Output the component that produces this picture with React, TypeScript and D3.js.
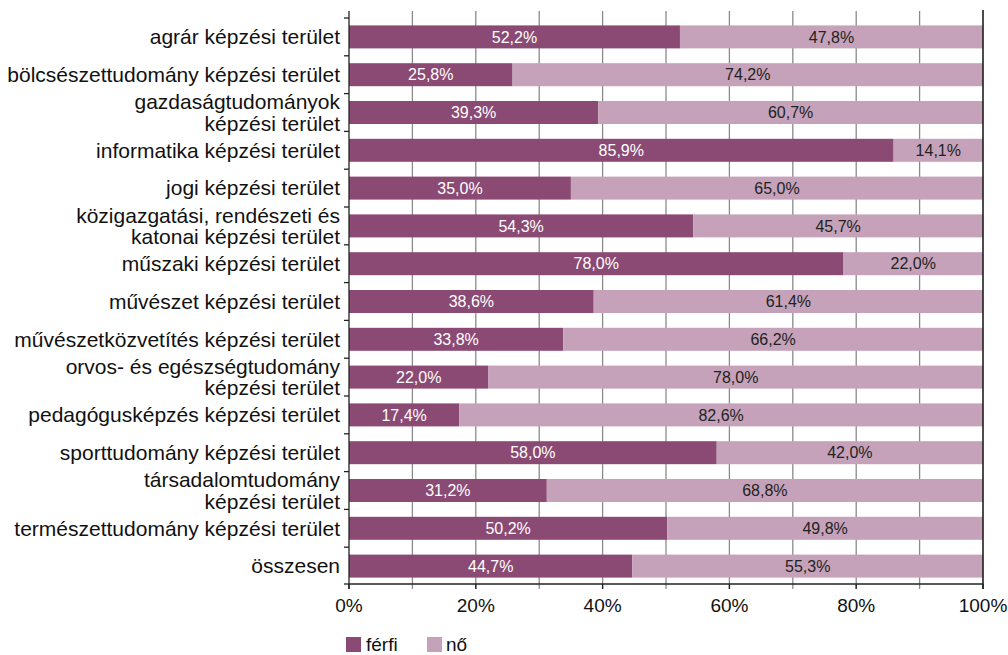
import React from "react";
import * as d3 from "d3";

const categories: string[][] = [
  ["agrár képzési terület"],
  ["bölcsészettudomány képzési terület"],
  ["gazdaságtudományok", "képzési terület"],
  ["informatika képzési terület"],
  ["jogi képzési terület"],
  ["közigazgatási, rendészeti és", "katonai képzési terület"],
  ["műszaki képzési terület"],
  ["művészet képzési terület"],
  ["művészetközvetítés képzési terület"],
  ["orvos- és egészségtudomány", "képzési terület"],
  ["pedagógusképzés képzési terület"],
  ["sporttudomány képzési terület"],
  ["társadalomtudomány", "képzési terület"],
  ["természettudomány képzési terület"],
  ["összesen"],
];
const ferfi = [52.2, 25.8, 39.3, 85.9, 35.0, 54.3, 78.0, 38.6, 33.8, 22.0, 17.4, 58.0, 31.2, 50.2, 44.7];
const no = [47.8, 74.2, 60.7, 14.1, 65.0, 45.7, 22.0, 61.4, 66.2, 78.0, 82.6, 42.0, 68.8, 49.8, 55.3];
const xTicks = [0, 20, 40, 60, 80, 100];
const gridTicks = [10, 20, 30, 40, 50, 60, 70, 80, 90];
const seriesNames = ["férfi", "nő"];

const DARK = "#8b4a74";
const LIGHT = "#c5a2b9";
const FONT = "'Liberation Sans', Arial, Helvetica, sans-serif";

export default function App() {
  const W = 1008, H = 655;
  const left = 349, right = 983, top = 18, bottom = 584;
  const x = d3.scaleLinear().domain([0, 100]).range([left, right]);
  const y = d3.scaleBand<number>().domain(d3.range(categories.length)).range([top, bottom + 1]);
  const barH = 23;
  const fmt = (v: number) => v.toFixed(1).replace(".", ",") + "%";
  const labelSize = 21;

  return (
    <svg width={W} height={H} style={{ position: "absolute", left: 0, top: 0, fontFamily: FONT }}>
      <rect width={W} height={H} fill="#fff" />
      {gridTicks.map((t) => (
        <line key={t} x1={x(t)} x2={x(t)} y1={11} y2={589} stroke="#8a8a8a" strokeWidth={1.3} />
      ))}
      {categories.map((c, i) => {
        const yc = (y(i) as number) + y.bandwidth() / 2;
        const y0 = yc - barH / 2;
        return (
          <g key={i}>
            <rect x={x(0)} y={y0} width={x(ferfi[i]) - x(0)} height={barH} fill={DARK} />
            <rect x={x(ferfi[i])} y={y0} width={x(100) - x(ferfi[i])} height={barH} fill={LIGHT} />
            <text x={(x(0) + x(ferfi[i])) / 2} y={yc} dy="0.35em" textAnchor="middle" fontSize={16} fill="#fff">
              {fmt(ferfi[i])}
            </text>
            <text x={(x(ferfi[i]) + x(100)) / 2} y={yc} dy="0.35em" textAnchor="middle" fontSize={16} fill="#222">
              {fmt(no[i])}
            </text>
            {c.length === 1 ? (
              <text x={340} y={yc} dy="0.35em" textAnchor="end" fontSize={labelSize} fill="#111">
                {c[0]}
              </text>
            ) : (
              <text textAnchor="end" fontSize={labelSize} fill="#111">
                <tspan x={340} y={yc - 10.5} dy="0.35em">{c[0]}</tspan>
                <tspan x={340} y={yc + 11} dy="0.35em">{c[1]}</tspan>
              </text>
            )}
          </g>
        );
      })}
      {/* left axis */}
      <line x1={left} x2={left} y1={11} y2={589} stroke="#222" strokeWidth={1.3} />
      {d3.range(categories.length + 1).map((i) => {
        const yy = i < categories.length ? (y(i) as number) : bottom;
        return <line key={i} x1={left - 5} x2={left} y1={yy} y2={yy} stroke="#222" strokeWidth={1.3} />;
      })}
      {/* right edge */}
      <line x1={right} x2={right} y1={10} y2={589} stroke="#111" strokeWidth={1.5} />
      {/* bottom axis */}
      <line x1={left} x2={right} y1={bottom} y2={bottom} stroke="#222" strokeWidth={1.3} />
      {xTicks.map((t) => (
        <g key={t}>
          <line x1={x(t)} x2={x(t)} y1={bottom} y2={589} stroke="#222" strokeWidth={1.3} />
          <text x={x(t)} y={605} dy="0.35em" textAnchor="middle" fontSize={19} fill="#111">
            {t}%
          </text>
        </g>
      ))}
      {/* legend */}
      <rect x={346} y={637} width={15} height={15} fill={DARK} />
      <text x={366} y={644} dy="0.35em" fontSize={19} fill="#111">{seriesNames[0]}</text>
      <rect x={427} y={637} width={15} height={15} fill={LIGHT} />
      <text x={446} y={644} dy="0.35em" fontSize={19} fill="#111">{seriesNames[1]}</text>
    </svg>
  );
}
